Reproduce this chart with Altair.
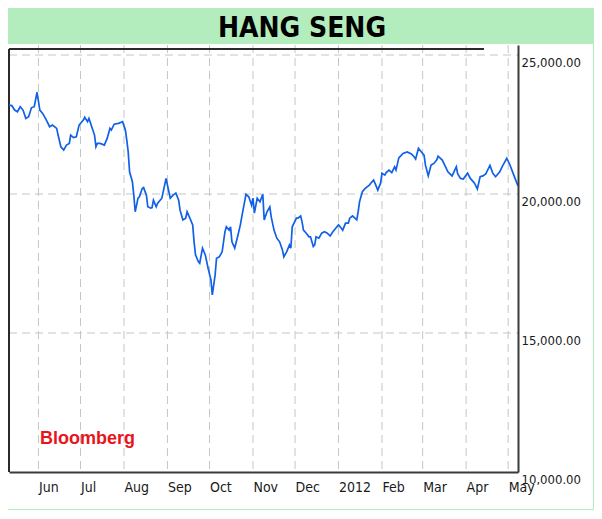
import altair as alt
import pandas as pd

# ---- data ----
dates = [
    "2011-05-11", "2011-05-13", "2011-05-15", "2011-05-17", "2011-05-19", "2011-05-21", "2011-05-23", "2011-05-25",
    "2011-05-27", "2011-05-29", "2011-05-31", "2011-06-02", "2011-06-04", "2011-06-06", "2011-06-09", "2011-06-11",
    "2011-06-14", "2011-06-15", "2011-06-17", "2011-06-19", "2011-06-21", "2011-06-23", "2011-06-24", "2011-06-26",
    "2011-06-28", "2011-06-30", "2011-07-03", "2011-07-04", "2011-07-06", "2011-07-07", "2011-07-09", "2011-07-11",
    "2011-07-12", "2011-07-13", "2011-07-15", "2011-07-18", "2011-07-20", "2011-07-22", "2011-07-23", "2011-07-25",
    "2011-07-28", "2011-07-30", "2011-07-31", "2011-08-02", "2011-08-03", "2011-08-04", "2011-08-05", "2011-08-07",
    "2011-08-08", "2011-08-09", "2011-08-10", "2011-08-11", "2011-08-12", "2011-08-14", "2011-08-15", "2011-08-17",
    "2011-08-18", "2011-08-20", "2011-08-21", "2011-08-22", "2011-08-24", "2011-08-25", "2011-08-28", "2011-08-30",
    "2011-08-31", "2011-09-01", "2011-09-03", "2011-09-05", "2011-09-07", "2011-09-09", "2011-09-10", "2011-09-12",
    "2011-09-14", "2011-09-15", "2011-09-17", "2011-09-19", "2011-09-20", "2011-09-21", "2011-09-23", "2011-09-24",
    "2011-09-26", "2011-09-28", "2011-09-30", "2011-10-02", "2011-10-03", "2011-10-05", "2011-10-06", "2011-10-08",
    "2011-10-10", "2011-10-12", "2011-10-13", "2011-10-15", "2011-10-16", "2011-10-17", "2011-10-19", "2011-10-21",
    "2011-10-23", "2011-10-24", "2011-10-27", "2011-10-29", "2011-10-31", "2011-11-01", "2011-11-02", "2011-11-04",
    "2011-11-06", "2011-11-08", "2011-11-09", "2011-11-11", "2011-11-13", "2011-11-14", "2011-11-16", "2011-11-18",
    "2011-11-20", "2011-11-22", "2011-11-23", "2011-11-25", "2011-11-27", "2011-11-28", "2011-11-29", "2011-12-02",
    "2011-12-03", "2011-12-05", "2011-12-06", "2011-12-07", "2011-12-09", "2011-12-11", "2011-12-12", "2011-12-14",
    "2011-12-15", "2011-12-16", "2011-12-18", "2011-12-20", "2011-12-22", "2011-12-24", "2011-12-26", "2011-12-28",
    "2011-12-30", "2012-01-01", "2012-01-03", "2012-01-04", "2012-01-06", "2012-01-08", "2012-01-09", "2012-01-11",
    "2012-01-14", "2012-01-15", "2012-01-16", "2012-01-18", "2012-01-20", "2012-01-23", "2012-01-24", "2012-01-26",
    "2012-01-27", "2012-01-29", "2012-01-31", "2012-02-01", "2012-02-03", "2012-02-04", "2012-02-06", "2012-02-08",
    "2012-02-10", "2012-02-11", "2012-02-13", "2012-02-16", "2012-02-19", "2012-02-22", "2012-02-24", "2012-02-25",
    "2012-02-27", "2012-02-29", "2012-03-02", "2012-03-03", "2012-03-05", "2012-03-07", "2012-03-09", "2012-03-11",
    "2012-03-12", "2012-03-15", "2012-03-17", "2012-03-19", "2012-03-22", "2012-03-25", "2012-03-26", "2012-03-28",
    "2012-03-30", "2012-04-02", "2012-04-04", "2012-04-07", "2012-04-09", "2012-04-11", "2012-04-13", "2012-04-15",
    "2012-04-18", "2012-04-20", "2012-04-22", "2012-04-25", "2012-04-27", "2012-04-30", "2012-05-02", "2012-05-05",
    "2012-05-08",
]

values = [
    23200, 23180, 23020, 22960, 23140, 23020, 22720, 22780,
    23100, 23140, 23660, 23020, 22900, 22720, 22420, 22480,
    22360, 22120, 21700, 21580, 21760, 21820, 22120, 22030,
    22060, 22480, 22660, 22760, 22600, 22720, 22420, 22120,
    21700, 21820, 21820, 21760, 22000, 22360, 22300, 22510,
    22540, 22580, 22600, 22300, 21940, 21520, 20800, 20440,
    19960, 19360, 19600, 19850, 19900, 20200, 20230, 19960,
    19540, 19490, 19510, 19780, 19540, 19670, 19850, 20320,
    20560, 20320, 19850, 19960, 20030, 19780, 19420, 19070,
    19130, 19360, 19130, 18890, 18280, 17810, 17570, 17510,
    18050, 17810, 17330, 16910, 16370, 17090, 17690, 17740,
    17920, 18640, 18820, 18700, 18820, 18280, 18050, 18460,
    18890, 19180, 19990, 19900, 19600, 19850, 19310, 19850,
    19720, 19990, 19070, 19360, 19540, 19180, 18700, 18410,
    18280, 17990, 17740, 17920, 18170, 18050, 18820, 19130,
    19130, 19210, 19000, 18700, 18590, 18460, 18460, 18110,
    18170, 18460, 18410, 18590, 18640, 18590, 18490, 18640,
    18770, 18890, 18770, 18700, 18950, 18950, 19130, 19210,
    19070, 19360, 19720, 20080, 20200, 20320, 20390, 20500,
    20390, 20140, 20390, 20750, 20680, 20770, 20860, 20770,
    20980, 20860, 21300, 21460, 21510, 21440, 21330, 21260,
    21640, 21520, 21400, 21040, 20650, 21040, 21100, 21220,
    21360, 21220, 21010, 20800, 20650, 20980, 20720, 20560,
    20540, 20750, 20560, 20390, 20180, 20620, 20650, 20720,
    21030, 20750, 20620, 20800, 21010, 21280, 21080, 20680,
    20290,
]

tick_months = [(2011, 6), (2011, 7), (2011, 8), (2011, 9), (2011, 10), (2011, 11),
               (2011, 12), (2012, 1), (2012, 2), (2012, 3), (2012, 4), (2012, 5)]
y_ticks = [10000, 15000, 20000, 25000]
y_grid = [15000, 20000, 25000]
x_domain = [(2011, 5, 11), (2012, 5, 8)]
y_domain = [10000, 25360]

title_text = "HANG SENG"
source_text = "Bloomberg"

# ---- tables ----
df = pd.DataFrame({"date": dates, "value": values})
grid_x = pd.DataFrame({"date": [f"{y}-{m:02d}-01" for y, m in tick_months]})
grid_y = pd.DataFrame({"value": y_grid})
one = pd.DataFrame({"a": [0]})

W, H = 509, 427
COND = "DejaVu Sans Condensed, sans-serif"

xs = alt.Scale(type="utc",
               domain=[alt.DateTime(year=y, month=m, date=d, utc=True) for y, m, d in x_domain])
ys = alt.Scale(domain=y_domain, nice=False, zero=False)

x_axis = alt.Axis(
    values=[alt.DateTime(year=y, month=m, date=1, utc=True) for y, m in tick_months],
    labelExpr="utcFormat(datum.value, '%m') == '01' ? utcFormat(datum.value, '%Y') : utcFormat(datum.value, '%b')",
    grid=False, ticks=False, domain=True, domainColor="#3a3a3a", domainWidth=2,
    labelAlign="left", labelBaseline="top", labelPadding=8, labelFont=COND,
    labelFontSize=14, labelColor="#1a1a1a", labelFlush=False, labelOverlap=False,
    labelBound=False, title=None, zindex=2,
)
y_axis = alt.Axis(
    orient="right", values=y_ticks, format=",.2f",
    grid=False, ticks=False, domain=True, domainColor="#3a3a3a", domainWidth=2,
    labelAlign="left", labelBaseline="top", labelPadding=3, labelOffset=1,
    labelFont=COND, labelFontSize=13, labelColor="#1a1a1a", labelFlush=False,
    labelOverlap=False, title=None, zindex=2,
)

panel = alt.Chart(one).mark_rect(color="white").encode(
    x=alt.value(-1), x2=alt.value(584), y=alt.value(-1), y2=alt.value(464)
)

vgrid = alt.Chart(grid_x).mark_rule(color="#c6c6c6", strokeWidth=1, strokeDash=[8, 5]).encode(
    x=alt.X("date:T", scale=xs, axis=x_axis), y=alt.value(0), y2=alt.value(H)
)
hgrid = alt.Chart(grid_y).mark_rule(color="#c6c6c6", strokeWidth=1, strokeDash=[8, 5]).encode(
    y=alt.Y("value:Q", scale=ys, axis=y_axis), x=alt.value(0), x2=alt.value(W)
)

left_frame = alt.Chart(one).mark_rule(color="#2a2a2a", strokeWidth=2).encode(
    x=alt.value(0), y=alt.value(4), y2=alt.value(H)
)
top_frame = alt.Chart(one).mark_rule(color="#2a2a2a", strokeWidth=2).encode(
    x=alt.value(0), x2=alt.value(475), y=alt.value(4)
)

line = alt.Chart(df).mark_line(color="#1060e8", strokeWidth=1.7).encode(
    x=alt.X("date:T", scale=xs, axis=x_axis),
    y=alt.Y("value:Q", scale=ys, axis=y_axis),
)

title = alt.Chart(one).mark_text(
    text=title_text, font=COND, fontWeight="bold", fontSize=28, color="black",
    align="center", baseline="alphabetic"
).encode(x=alt.value(293), y=alt.value(-8))

source = alt.Chart(one).mark_text(
    text=source_text, font="Liberation Sans, Arial, sans-serif", fontWeight="bold",
    fontSize=18, color="#e8141c", align="left", baseline="alphabetic"
).encode(x=alt.value(31), y=alt.value(399))

chart = alt.layer(
    panel, vgrid, hgrid, left_frame, top_frame, line, title, source
).properties(
    width=W, height=H,
    autosize=alt.AutoSizeParams(type="none"),
    padding={"left": 1, "top": 37, "right": 76, "bottom": 38},
    background="#b3edbd",
).configure_view(strokeWidth=0, fill="white")

chart.save("out.html", embed_options={"renderer": "svg", "actions": False})
